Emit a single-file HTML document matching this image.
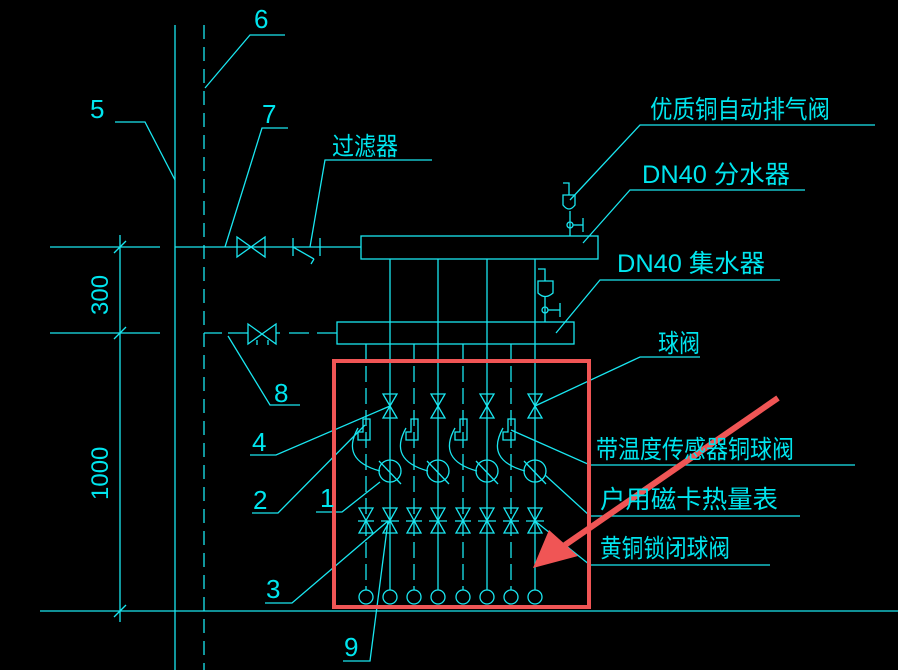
<!DOCTYPE html>
<html><head><meta charset="utf-8"><style>
html,body{margin:0;padding:0;background:#000;}
svg{display:block}
text{font-family:"Liberation Sans","Noto Sans CJK SC",sans-serif;fill:#00e5ee;}
</style></head><body>
<svg width="898" height="670" viewBox="0 0 898 670" xmlns="http://www.w3.org/2000/svg">
<g stroke="#19e6f0" stroke-width="1.3" fill="none">
<line x1="175" y1="25" x2="175" y2="670"/>
<line x1="204" y1="25" x2="204" y2="670" stroke-dasharray="14,8"/>
<line x1="40" y1="611" x2="898" y2="611"/>
<line x1="120" y1="235" x2="120" y2="622"/>
<line x1="50" y1="247" x2="160" y2="247"/>
<line x1="50" y1="333" x2="160" y2="333"/>
<line x1="114" y1="253" x2="126" y2="241"/>
<line x1="114" y1="339" x2="126" y2="327"/>
<line x1="114" y1="617" x2="126" y2="605"/>
<line x1="175" y1="247" x2="361" y2="247"/>
<path d="M237 237 L237 257 L265 237 L265 257 Z"/>
<line x1="293" y1="238" x2="293" y2="256"/><line x1="320" y1="238" x2="320" y2="256"/>
<line x1="293" y1="247" x2="314" y2="259"/><line x1="314" y1="259" x2="311" y2="264"/>
<rect x="361" y="236" width="237" height="23"/>
<line x1="204" y1="333" x2="222" y2="333"/>
<path d="M248 324 L248 344 L276 324 L276 344 Z"/>
<line x1="228" y1="333" x2="248" y2="333"/><line x1="276" y1="333" x2="280" y2="333"/>
<line x1="289" y1="333" x2="309" y2="333"/><line x1="317" y1="333" x2="337" y2="333"/>
<line x1="257" y1="340" x2="257" y2="345"/><line x1="268" y1="340" x2="268" y2="345"/>
<rect x="337" y="322" width="237" height="22"/>
<path d="M563 183 L569 183 L569 195 M563 195 L575 195 L575 205 Q569 213 563 205 Z"/>
<line x1="570" y1="211" x2="570" y2="236"/><circle cx="570" cy="225" r="3"/><line x1="573" y1="225" x2="583" y2="225"/><line x1="583" y1="218" x2="583" y2="232"/>
<path d="M538 269 L545 269 L545 281 M538 281 L553 281 L553 293 Q545 300 538 293 Z"/>
<line x1="545" y1="297" x2="545" y2="322"/><circle cx="545" cy="310" r="3"/><line x1="548" y1="310" x2="560" y2="310"/><line x1="560" y1="303" x2="560" y2="317"/>
<line x1="390" y1="259" x2="390" y2="590"/>
<line x1="438" y1="259" x2="438" y2="590"/>
<line x1="487" y1="259" x2="487" y2="590"/>
<line x1="535" y1="259" x2="535" y2="590"/>
<g stroke-dasharray="16,6">
<line x1="366" y1="344" x2="366" y2="590"/>
<line x1="414" y1="344" x2="414" y2="590"/>
<line x1="463" y1="344" x2="463" y2="590"/>
<line x1="511" y1="344" x2="511" y2="590"/>
</g>
<path d="M383 394 L397 394 L383 418 L397 418 Z"/>
<path d="M431 394 L445 394 L431 418 L445 418 Z"/>
<path d="M480 394 L494 394 L480 418 L494 418 Z"/>
<path d="M528 394 L542 394 L528 418 L542 418 Z"/>
<path d="M363 419 L370 419 L370 440 L358 440 L358 432 L363 432 Z"/>
<path d="M411 419 L418 419 L418 440 L406 440 L406 432 L411 432 Z"/>
<path d="M460 419 L467 419 L467 440 L455 440 L455 432 L460 432 Z"/>
<path d="M508 419 L515 419 L515 440 L503 440 L503 432 L508 432 Z"/>
<path d="M358 428 Q340 460 380 471"/><path d="M406 428 Q388 460 428 471"/><path d="M455 428 Q437 460 477 471"/><path d="M503 428 Q485 460 525 471"/>
<circle cx="390" cy="471" r="11"/><circle cx="438" cy="471" r="11"/><circle cx="487" cy="471" r="11"/><circle cx="535" cy="471" r="11"/>
<line x1="379" y1="461" x2="401" y2="484"/><line x1="427" y1="461" x2="449" y2="484"/><line x1="476" y1="461" x2="498" y2="484"/><line x1="524" y1="461" x2="546" y2="484"/>
<path d="M359 508 L373 508 L359 533 L373 533 Z"/>
<path d="M383 508 L397 508 L383 533 L397 533 Z"/>
<path d="M407 508 L421 508 L407 533 L421 533 Z"/>
<path d="M431 508 L445 508 L431 533 L445 533 Z"/>
<path d="M456 508 L470 508 L456 533 L470 533 Z"/>
<path d="M480 508 L494 508 L480 533 L494 533 Z"/>
<path d="M504 508 L518 508 L504 533 L518 533 Z"/>
<path d="M528 508 L542 508 L528 533 L542 533 Z"/>
<line x1="358" y1="521" x2="374" y2="521"/><line x1="381" y1="521" x2="399" y2="521"/><line x1="406" y1="521" x2="422" y2="521"/><line x1="429" y1="521" x2="447" y2="521"/><line x1="455" y1="521" x2="471" y2="521"/><line x1="478" y1="521" x2="496" y2="521"/><line x1="503" y1="521" x2="519" y2="521"/><line x1="526" y1="521" x2="544" y2="521"/>
<circle cx="366" cy="597" r="7"/><circle cx="390" cy="597" r="7"/><circle cx="414" cy="597" r="7"/><circle cx="438" cy="597" r="7"/><circle cx="463" cy="597" r="7"/><circle cx="487" cy="597" r="7"/><circle cx="511" cy="597" r="7"/><circle cx="535" cy="597" r="7"/>
<polyline points="205,88 250,35 285,35"/>
<polyline points="115,122 145,122 175,180"/>
<polyline points="225,247 262,128 288,128"/>
<polyline points="310,247 325,160 432,160"/>
<polyline points="570,200 640,125 875,125"/>
<polyline points="583,243 630,190 805,190"/>
<polyline points="556,333 600,280 780,280"/>
<polyline points="535,406 640,357 700,357"/>
<polyline points="228,336 270,405 300,405"/>
<polyline points="250,455 276,455 390,406"/>
<polyline points="252,513 278,513 365,425"/>
<polyline points="316,512 342,512 380,482"/>
<polyline points="265,603 292,603 388,521"/>
<polyline points="343,661 370,661 388,521"/>
<polyline points="511,430 590,465 855,465"/>
<polyline points="545,475 590,516 800,516"/>
<polyline points="535,521 590,565 770,565"/>
</g>
<rect x="334" y="361" width="255" height="246" fill="none" stroke="#f05555" stroke-width="4"/>
<line x1="778" y1="398" x2="565" y2="545" stroke="#f05555" stroke-width="6"/>
<path d="M533 568 L549 530 L578 556 Z" fill="#f05555"/>
<g font-size="25">
<text x="254" y="28" font-size="26">6</text>
<text x="90" y="118" font-size="26">5</text>
<text x="262" y="123" font-size="26">7</text>
<text x="332" y="155" textLength="66" lengthAdjust="spacingAndGlyphs">过滤器</text>
<text x="650" y="118" textLength="180" lengthAdjust="spacingAndGlyphs">优质铜自动排气阀</text>
<text x="642" y="183" textLength="148" lengthAdjust="spacingAndGlyphs">DN40 分水器</text>
<text x="617" y="272" textLength="148" lengthAdjust="spacingAndGlyphs">DN40 集水器</text>
<text x="658" y="352" textLength="42" lengthAdjust="spacingAndGlyphs">球阀</text>
<text x="274" y="402" font-size="26">8</text>
<text x="252" y="451" font-size="26">4</text>
<text x="253" y="509" font-size="26">2</text>
<text x="320" y="507" font-size="26">1</text>
<text x="266" y="598" font-size="26">3</text>
<text x="344" y="656" font-size="26">9</text>
<text x="596" y="458" textLength="198" lengthAdjust="spacingAndGlyphs">带温度传感器铜球阀</text>
<text x="600" y="508" textLength="178" lengthAdjust="spacingAndGlyphs">户用磁卡热量表</text>
<text x="600" y="557" textLength="130" lengthAdjust="spacingAndGlyphs">黄铜锁闭球阀</text>
<text transform="translate(108,315) rotate(-90)" font-size="24">300</text>
<text transform="translate(108,500) rotate(-90)" font-size="24">1000</text>
</g>
</svg>
</body></html>
